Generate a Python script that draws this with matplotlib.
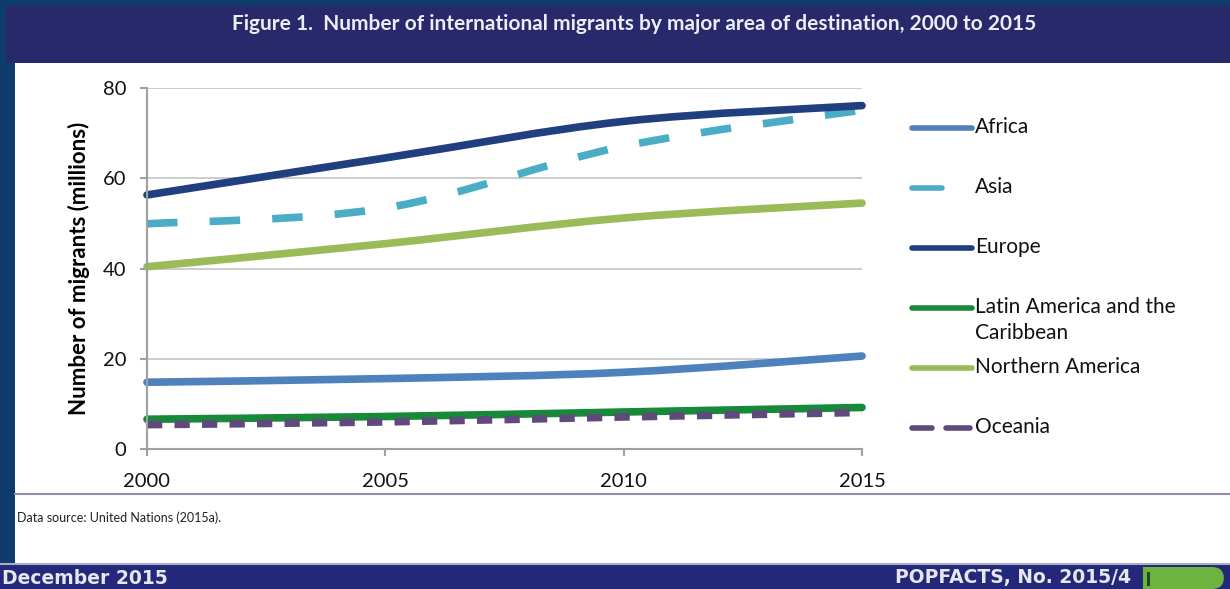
import numpy as np
import matplotlib.pyplot as plt
from matplotlib.path import Path
from matplotlib.patches import PathPatch, Rectangle, FancyBboxPatch
from matplotlib.lines import Line2D

plt.rcParams['font.family'] = ['Lato', 'DejaVu Sans']

years = [2000, 2005, 2010, 2015]
africa = [14.8, 15.6, 17.0, 20.6]
asia = [49.9, 53.4, 67.1, 75.1]
europe = [56.3, 64.5, 72.6, 76.1]
latin_america = [6.6, 7.2, 8.2, 9.2]
northern_america = [40.4, 45.5, 51.2, 54.5]
oceania = [5.4, 6.0, 7.1, 8.1]

names = ['Africa', 'Asia', 'Europe', 'Latin America and the\nCaribbean',
         'Northern America', 'Oceania']
values = [africa, asia, europe, latin_america, northern_america, oceania]
colors = ['#4f81bd', '#4bacc6', '#1f3f7f', '#178a3a', '#9bbb59', '#604a7b']
dashes = [None, (4.0, 4.2), None, None, None, (2.0, 1.6)]

yticks = [0, 20, 40, 60, 80]
xticks = [2000, 2005, 2010, 2015]

W, H = 1230, 589
def fx(x):
    return x / W
def fy(y):
    return 1 - y / H


def smooth_path(xs, ys):
    # excel style smoothing: catmull-rom segments as cubic beziers
    p = np.column_stack([xs, ys]).astype(float)
    ext = np.vstack([p[0], p, p[-1]])
    verts = [p[0]]
    codes = [Path.MOVETO]
    for i in range(len(p) - 1):
        p0, p1, p2, p3 = ext[i], ext[i + 1], ext[i + 2], ext[i + 3]
        c1 = p1 + (p2 - p0) / 6.0
        c2 = p2 - (p3 - p1) / 6.0
        verts += [c1, c2, p2]
        codes += [Path.CURVE4] * 3
    return Path(verts, codes)


fig = plt.figure(figsize=(12.3, 5.89), dpi=100, facecolor='white')

# frame pieces around the chart
navy = '#0d3b6c'
fig.add_artist(Rectangle((0, 0), fx(15), 1, color=navy, lw=0))
fig.add_artist(Rectangle((0, fy(6)), 1, 6 / H, color=navy, lw=0))
fig.add_artist(Rectangle((fx(6), fy(63)), 1, 57 / H, color='#28296a', lw=0))
fig.add_artist(Line2D([fx(15), 1], [fy(494), fy(494)], color='#8e8fa8', lw=1.5))
fig.add_artist(Rectangle((0, 0), 1, fy(565), color='#23287a', lw=0))
fig.add_artist(Line2D([0, 1], [fy(564), fy(564)], color='#a9acc4', lw=1.5))
# green tab, square on the left and rounded on the right
fig.add_artist(Rectangle((fx(1143), 0), fx(40), fy(567), color='#6cb33f', lw=0))
fig.add_artist(FancyBboxPatch((1160 / 100, 0.0), 64 / 100, 22 / 100,
                              boxstyle='round,pad=0,rounding_size=0.12',
                              transform=fig.dpi_scale_trans,
                              color='#6cb33f', lw=0))
fig.add_artist(Rectangle((fx(1147), 0.005), 3 / W, 14 / H, color='#1d4a2a', lw=0))

fig.text(fx(634), fy(24), 'Figure 1.  Number of international migrants by major area of destination, 2000 to 2015',
         color='#ececf4', fontsize=15, fontweight='bold', ha='center', va='center')
fig.text(fx(17), fy(518), 'Data source: United Nations (2015a).', fontsize=9,
         color='#222222', ha='left', va='center')
fig.text(fx(2), fy(578), 'December 2015', color='#e6e6ee', fontsize=13.5,
         fontweight='bold', ha='left', va='center', family='DejaVu Sans')
fig.text(fx(1131), fy(578), 'POPFACTS, No. 2015/4', color='#e6e6ee', fontsize=13.5,
         fontweight='bold', ha='right', va='center', family='DejaVu Sans')

ax = fig.add_axes([fx(147), fy(449), fx(862) - fx(147), (449 - 88) / H])
ax.set_xlim(2000, 2015)
ax.set_ylim(0, 80)
ax.set_xticks(xticks)
ax.set_yticks(yticks)
ax.yaxis.grid(True, color='#c8c8c8', lw=1.3)
ax.set_axisbelow(True)
for s in ['top', 'right']:
    ax.spines[s].set_visible(False)
for s in ['left', 'bottom']:
    ax.spines[s].set_color('#a0a0a0')
    ax.spines[s].set_linewidth(1.5)
ax.tick_params(axis='both', colors='#a0a0a0', labelcolor='#111111',
               labelsize=14.5, length=5, width=1.5)
ax.tick_params(axis='x', pad=12)
ax.tick_params(axis='y', pad=10)
ax.set_ylabel('Number of migrants (millions)', fontsize=16, fontweight='bold',
              labelpad=9)

for vals, c, d in zip(values, colors, dashes):
    patch = PathPatch(smooth_path(years, vals), facecolor='none', edgecolor=c,
                      lw=5.5, capstyle='round', joinstyle='round', clip_on=False)
    if d is not None:
        patch.set_linestyle((0, d))
        patch.set_capstyle('butt')
    ax.add_patch(patch)

# legend drawn as its own small panel
lax = fig.add_axes([fx(905), fy(445), fx(1200) - fx(905), (445 - 110) / H])
lax.set_xlim(905, 1200)
lax.set_ylim(445, 110)
lax.axis('off')
for i, (name, c, d) in enumerate(zip(names, colors, dashes)):
    yy = 128 + i * 60
    if d is None:
        lax.plot([912, 972], [yy, yy], color=c, lw=4, solid_capstyle='round')
    elif i == 1:
        lax.plot([912, 942], [yy, yy], color=c, lw=4, solid_capstyle='round')
    else:
        lax.plot([912, 932], [yy, yy], color=c, lw=4, solid_capstyle='round')
        lax.plot([946, 970], [yy, yy], color=c, lw=4, solid_capstyle='round')
    lax.text(975, yy - 11, name, fontsize=15, color='#111111', ha='left',
             va='top', linespacing=1.35)

fig.savefig('out.png', dpi=100, facecolor='white')
